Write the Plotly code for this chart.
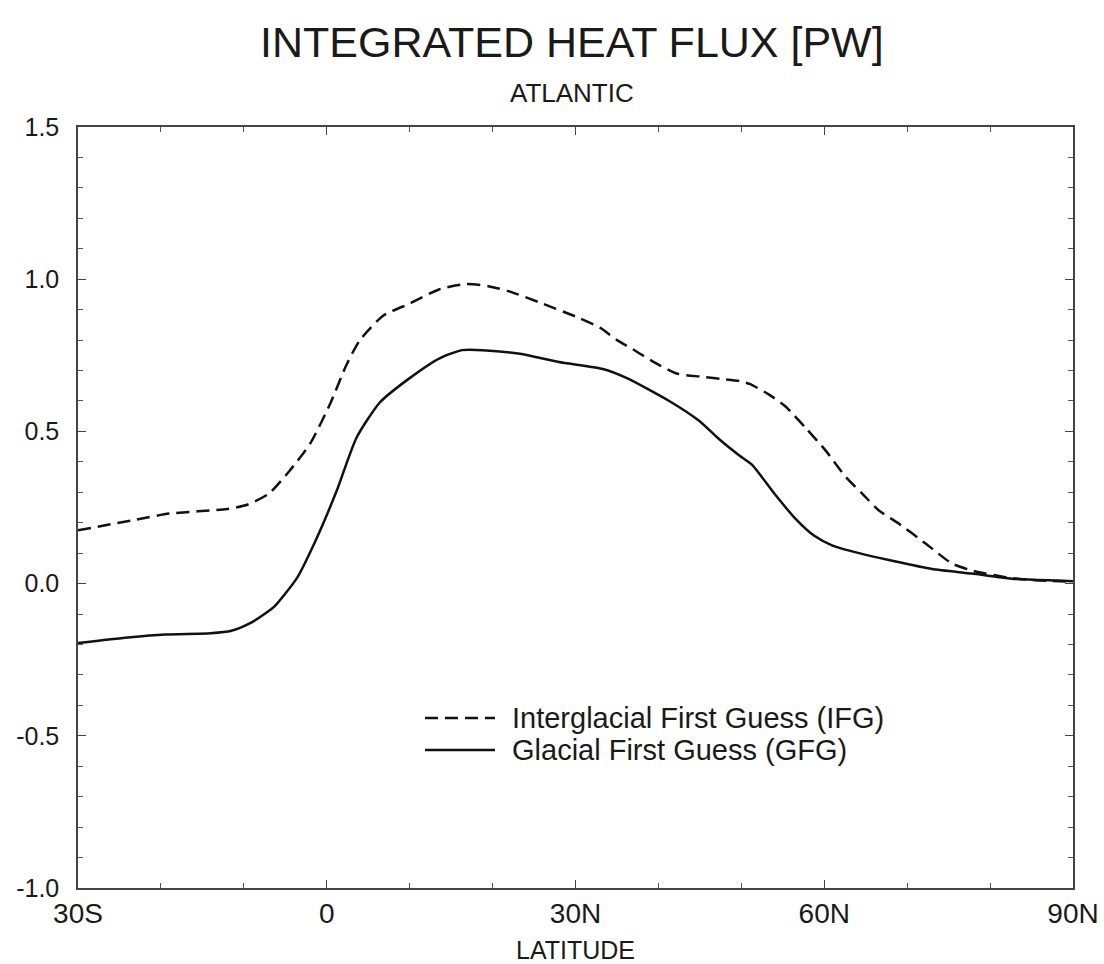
import plotly.graph_objects as go

# Interglacial First Guess (IFG) - dashed
ifg_lat = [-30, -23, -19, -12, -9.5, -7, -4.5, -2, 0.4, 2.4, 4, 6.8, 10, 13.6, 16.8,
           19.5, 22, 26, 30.5, 33, 35, 36.9, 39.3, 42.2, 45, 47.7, 49.8, 51, 53.4,
           55.4, 57.8, 60.2, 62.6, 64.6, 66.6, 69, 72.3, 75.4, 77.8, 79.5, 82, 85, 90]
ifg_val = [0.175, 0.21, 0.23, 0.245, 0.26, 0.295, 0.37, 0.46, 0.59, 0.72, 0.80, 0.88,
           0.92, 0.967, 0.984, 0.977, 0.96, 0.92, 0.872, 0.84, 0.80, 0.77, 0.73, 0.69,
           0.68, 0.672, 0.665, 0.656, 0.62, 0.58, 0.51, 0.436, 0.35, 0.295, 0.24, 0.197,
           0.13, 0.066, 0.043, 0.033, 0.02, 0.012, 0.006]

# Glacial First Guess (GFG) - solid
gfg_lat = [-30, -24, -19.5, -14, -11.5, -9.3, -7, -6.3, -3.6, -1.2, 1.2, 3.6, 6.4, 10,
           13.6, 16.3, 18.8, 23.3, 28, 33.3, 36.2, 41.3, 44.9, 47.3, 49.8, 51.3, 54,
           56.4, 58.8, 61, 64.2, 68.2, 73, 77.8, 82.6, 88.2, 90]
gfg_val = [-0.195, -0.177, -0.167, -0.163, -0.155, -0.131, -0.09, -0.075, 0.018, 0.15,
           0.305, 0.48, 0.595, 0.675, 0.74, 0.767, 0.767, 0.755, 0.728, 0.705, 0.675,
           0.60, 0.535, 0.475, 0.42, 0.39, 0.295, 0.217, 0.157, 0.125, 0.10, 0.075,
           0.048, 0.033, 0.016, 0.01, 0.008]

series_names = ["Interglacial First Guess (IFG)", "Glacial First Guess (GFG)"]

x_tickvals = [-30, 0, 30, 60, 90]
x_ticktext = ["30S", "0", "30N", "60N", "90N"]
y_tickvals = [-1.0, -0.5, 0.0, 0.5, 1.0, 1.5]
y_ticktext = ["-1.0", "-0.5", "0.0", "0.5", "1.0", "1.5"]

FONT = "Liberation Sans, Arial, Helvetica, sans-serif"
INK = "#1a1a1a"
DASH = "13px,7px"

fig = go.Figure()
fig.add_trace(go.Scatter(x=ifg_lat, y=ifg_val, mode="lines", name=series_names[0],
                         showlegend=False,
                         line=dict(color="#111111", width=2.5, dash=DASH, shape="spline",
                                   smoothing=0.6)))
fig.add_trace(go.Scatter(x=gfg_lat, y=gfg_val, mode="lines", name=series_names[1],
                         showlegend=False,
                         line=dict(color="#111111", width=2.5, shape="spline", smoothing=0.6)))

axis_common = dict(showgrid=False, zeroline=False, showline=True, linecolor="#444444",
                   linewidth=1.5, mirror="ticks", ticks="inside", tickcolor="#444444",
                   ticklen=8, tickwidth=1.2, automargin=False)

fig.update_xaxes(range=[-30, 90], tickvals=x_tickvals, ticktext=x_ticktext,
                 tickfont=dict(family=FONT, size=28, color=INK),
                 minor=dict(dtick=10, ticks="inside", ticklen=5, tickcolor="#555555", tickwidth=1),
                 title=dict(text="LATITUDE", font=dict(family=FONT, size=25, color=INK),
                            standoff=16),
                 **axis_common)
fig.update_yaxes(range=[-1.0, 1.5], tickvals=y_tickvals, ticktext=y_ticktext,
                 tickfont=dict(family=FONT, size=25, color=INK), ticklabelstandoff=12,
                 minor=dict(dtick=0.1, ticks="inside", ticklen=5, tickcolor="#555555", tickwidth=1),
                 **axis_common)

# manual legend (line samples + labels) inside the plot area
legend_rows = [(0.2234, DASH), (0.1813, "solid")]
shapes = []
annotations = []
for (ly, dash), label in zip(legend_rows, series_names):
    shapes.append(dict(type="line", xref="paper", yref="paper", x0=0.3487, x1=0.4191,
                       y0=ly, y1=ly, line=dict(color="#111111", width=2.5, dash=dash)))
    annotations.append(dict(text=label, xref="paper", yref="paper", x=0.4342, y=ly,
                            xanchor="left", yanchor="middle", showarrow=False,
                            font=dict(family=FONT, size=29, color=INK)))

annotations.append(dict(text="ATLANTIC", xref="paper", yref="paper", x=0.496, y=1.0,
                        yshift=34, showarrow=False, xanchor="center", yanchor="middle",
                        font=dict(family=FONT, size=26, color=INK)))

fig.update_layout(
    width=1104, height=964,
    paper_bgcolor="white", plot_bgcolor="white",
    margin=dict(l=78, r=31, t=127, b=76, autoexpand=False),
    title=dict(text="INTEGRATED HEAT FLUX [PW]", x=0.518, xanchor="center",
               y=1 - 42 / 964, yanchor="middle", yref="container",
               font=dict(family=FONT, size=43, color=INK)),
    shapes=shapes,
    annotations=annotations,
    showlegend=False,
)

fig.write_html("out.html")
